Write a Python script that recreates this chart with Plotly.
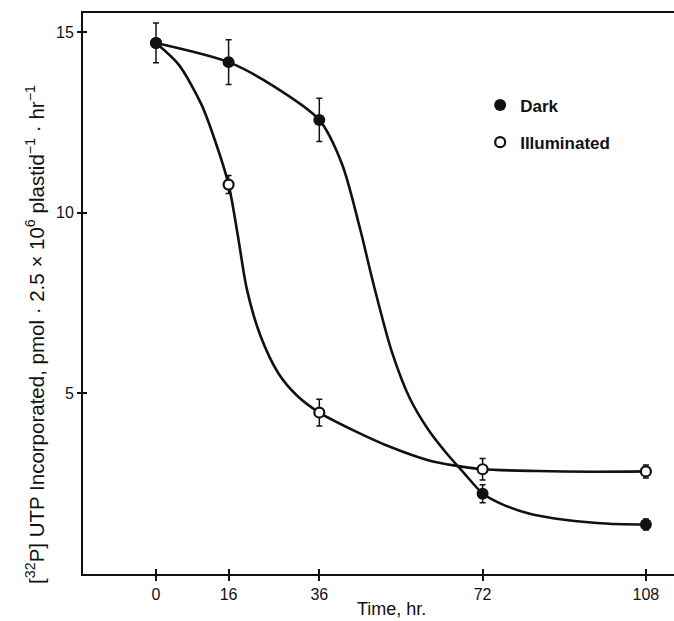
import plotly.graph_objects as go

# ---- data ----
times = [0, 16, 36, 72, 108]
dark_mean = [14.7, 14.17, 12.57, 2.22, 1.37]
dark_err = [0.55, 0.62, 0.60, 0.25, 0.15]
illum_mean = [14.7, 10.78, 4.47, 2.90, 2.84]
illum_err = [0.0, 0.25, 0.37, 0.30, 0.18]

# hand-drawn fitted curves
dark_curve_x = [0, 16, 26, 36, 41, 45, 48, 52, 56, 60, 64, 68, 72, 76, 82, 90, 100, 108]
dark_curve_y = [14.7, 14.17, 13.5, 12.57, 11.35, 9.55, 8.0, 6.15, 4.85, 4.0, 3.35, 2.78, 2.23, 1.95, 1.68, 1.5, 1.39, 1.37]
illum_curve_x = [0, 5, 10, 13, 16, 18, 20, 23, 27, 31, 36, 44, 52, 60, 66, 72, 84, 96, 108]
illum_curve_y = [14.7, 14.1, 13.0, 12.0, 10.78, 9.4, 7.9, 6.6, 5.55, 4.95, 4.47, 3.95, 3.5, 3.15, 3.0, 2.9, 2.85, 2.83, 2.84]

x_ticks = [0, 16, 36, 72, 108]
y_ticks = [5, 10, 15]

FONT = "Liberation Sans, Arial, Helvetica, sans-serif"
INK = "#111111"

fig = go.Figure()

fig.add_trace(go.Scatter(x=dark_curve_x, y=dark_curve_y, mode="lines",
                         line=dict(color=INK, width=2.6, shape="spline", smoothing=0.8),
                         showlegend=False, hoverinfo="skip"))
fig.add_trace(go.Scatter(x=illum_curve_x, y=illum_curve_y, mode="lines",
                         line=dict(color=INK, width=2.6, shape="spline", smoothing=0.8),
                         showlegend=False, hoverinfo="skip"))

fig.add_trace(go.Scatter(x=times, y=illum_mean, mode="markers", name="Illuminated",
                         marker=dict(symbol="circle", size=10, color="white",
                                     line=dict(color=INK, width=2.2)),
                         error_y=dict(type="data", array=illum_err, color=INK, thickness=1.5, width=3),
                         legend="legend2"))
fig.add_trace(go.Scatter(x=times, y=dark_mean, mode="markers", name="Dark",
                         marker=dict(symbol="circle", size=12, color=INK,
                                     line=dict(color=INK, width=0)),
                         error_y=dict(type="data", array=dark_err, color=INK, thickness=1.5, width=3),
                         legend="legend"))

# empty trace on the overlay axes so the inward ticks are drawn
fig.add_trace(go.Scatter(x=[], y=[], xaxis="x2", yaxis="y2", showlegend=False))

xr = [-16.1, 114.2]
yr = [0.0, 15.53]

fig.update_layout(
    width=674, height=621,
    margin=dict(l=83, r=0, t=13, b=47),
    paper_bgcolor="white", plot_bgcolor="white",
    font=dict(family=FONT, color=INK, size=16),
    xaxis=dict(range=xr, tickvals=x_ticks, ticks="outside", ticklen=5, tickwidth=1.5,
               tickcolor=INK, showline=True, linecolor=INK, linewidth=2, mirror=True,
               showgrid=False, zeroline=False, tickfont=dict(size=16, family=FONT)),
    yaxis=dict(range=yr, tickvals=y_ticks, ticks="outside", ticklen=4, tickwidth=1.5,
               tickcolor=INK, showline=True, linecolor=INK, linewidth=2,
               showgrid=False, zeroline=False, tickfont=dict(size=16, family=FONT)),
    xaxis2=dict(range=xr, overlaying="x", anchor="y", side="bottom", tickvals=x_ticks,
                ticks="inside", ticklen=5, tickwidth=1.5, tickcolor=INK,
                showticklabels=False, showline=False, showgrid=False, zeroline=False),
    yaxis2=dict(range=yr, overlaying="y", anchor="x", side="left", tickvals=y_ticks,
                ticks="inside", ticklen=4, tickwidth=1.5, tickcolor=INK,
                showticklabels=False, showline=False, showgrid=False, zeroline=False),
    legend=dict(x=0.672, y=0.835, xanchor="left", yanchor="middle", bgcolor="rgba(0,0,0,0)",
                font=dict(size=17, family=FONT, weight="bold"), itemwidth=30),
    legend2=dict(x=0.672, y=0.769, xanchor="left", yanchor="middle", bgcolor="rgba(0,0,0,0)",
                 font=dict(size=17, family=FONT, weight="bold"), itemwidth=30),
    annotations=[
        dict(text="Time, hr.", xref="paper", yref="paper", x=(391 - 83) / 591, y=-0.063,
             xanchor="center", yanchor="middle", showarrow=False,
             font=dict(size=18, family=FONT)),
        dict(text="[<sup>32</sup>P] UTP Incorporated, pmol · 2.5 × 10<sup>6</sup> plastid<sup>−1</sup> · hr<sup>−1</sup>",
             xref="paper", yref="paper", x=(35 - 83) / 591, y=0.426, textangle=-90,
             xanchor="center", yanchor="middle", showarrow=False,
             font=dict(size=20.5, family=FONT)),
    ],
)

fig.write_html("out.html")
